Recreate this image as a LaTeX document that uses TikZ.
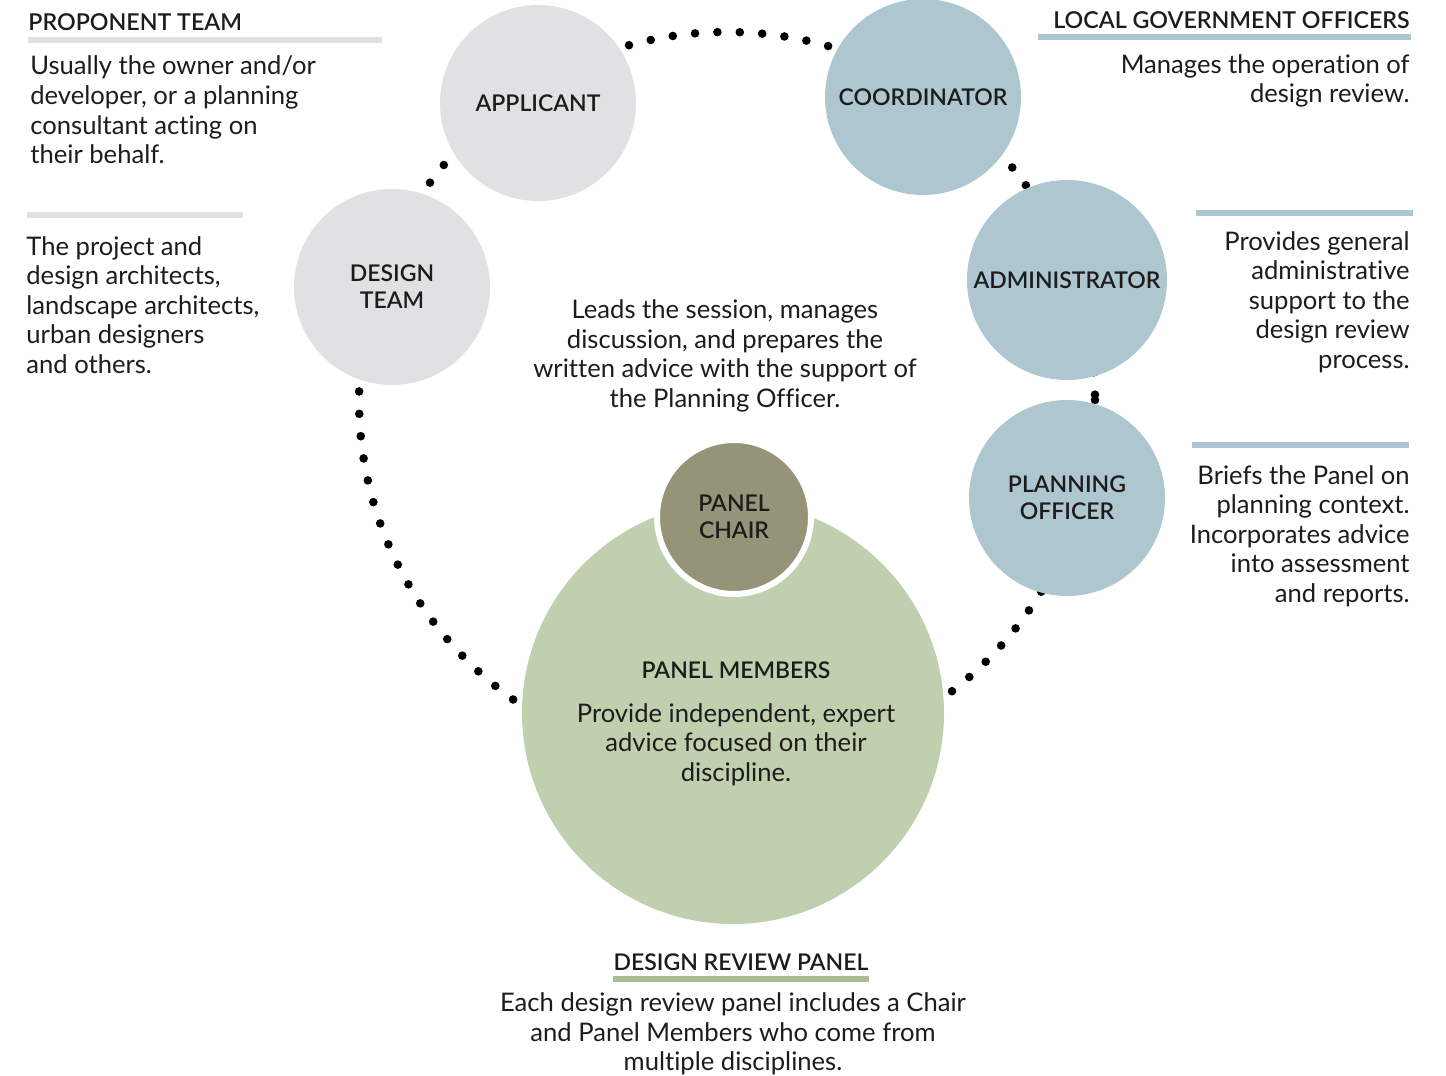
\documentclass[tikz,border=0pt]{standalone}
\usepackage{fontspec}
\setmainfont{Lato}[BoldFont={Lato Semibold},Ligatures=NoCommon]
\usetikzlibrary{positioning}
\definecolor{ink}{HTML}{1C1C1C}
\definecolor{mist}{HTML}{E0E1E3}
\definecolor{steel}{HTML}{AEC6D0}
\definecolor{sage}{HTML}{C0CFAD}
\definecolor{moss}{HTML}{A9BE8E}
\definecolor{olive}{HTML}{959479}

\tikzset{
  role/.style={circle,inner sep=0pt,align=center,text=ink,
    font=\fontsize{11.5}{13.5}\selectfont\bfseries},
  head/.style={inner sep=0pt,text=ink,font=\fontsize{11.6}{13}\selectfont\bfseries},
  blurb/.style={inner sep=0pt,text=ink,font=\fontsize{12.8}{14.8}\selectfont},
  bar/.style={line width=2.6pt,draw=#1},
  dotring/.style={line width=4.3pt,line cap=round,dash pattern=on 0pt off 11.2pt},
}

\begin{document}
\begin{tikzpicture}[x=0.5pt,y=-0.5pt]
\useasboundingbox (0,0) rectangle (1446,1076);

% dotted ring behind the roles
\coordinate (ring) at (727,400);
\draw[dotring] (ring) circle (368);

% proponent side
\node[role,fill=mist,minimum size=98pt] (applicant) at (538,103) {APPLICANT};
\node[role,fill=mist,minimum size=98pt] (designteam) at (392,287) {DESIGN\\TEAM};

% council officers
\node[role,fill=steel,minimum size=98pt] (coordinator) at (923,97) {COORDINATOR};
\node[role,fill=steel,minimum size=100pt] (admin) at (1067,280) {ADMINISTRATOR};
\node[role,fill=steel,minimum size=98pt] (planner) at (1067,498) {PLANNING\\OFFICER};

% the panel
\node[circle,fill=sage,minimum size=211pt] (members) at (733,713) {};
\node[role,fill=olive,draw=white,line width=3pt,minimum size=77pt] (chair) at (734,517) {PANEL\\CHAIR};
\node[head,font=\fontsize{11.5}{13}\selectfont\bfseries] (memberhead) at (736,670) {PANEL MEMBERS};
\node[blurb,align=center,below=12pt of memberhead] (membertext)
  {Provide independent, expert\\advice focused on their\\discipline.};
\node[blurb,align=center] (chairtext) at (725,356)
  {Leads the session, manages\\discussion, and prepares the\\written advice with the support of\\the Planning Officer.};

% side notes, left
\node[head,anchor=west] (proponent) at (28,22) {PROPONENT TEAM};
\draw[bar=mist] (28,40) -- (382,40);
\node[blurb,align=left,anchor=west] (proponenttext) at (30,110)
  {Usually the owner and/or\\developer, or a planning\\consultant acting on\\their behalf.};
\draw[bar=mist] (27,215) -- (243,215);
\node[blurb,align=left,anchor=west] (designtext) at (26,305)
  {The project and\\design architects,\\landscape architects,\\urban designers\\and others.};

% side notes, right
\node[head,anchor=east] (officers) at (1410,20) {LOCAL GOVERNMENT OFFICERS};
\draw[bar=steel] (1038,37) -- (1411,37);
\node[blurb,align=right,anchor=east] (coordtext) at (1410,81)
  {Manages the operation of\\design review.};
\draw[bar=steel] (1196,213) -- (1413,213);
\node[blurb,align=right,anchor=east] (admintext) at (1410,302)
  {Provides general\\administrative\\support to the\\design review\\process.};
\draw[bar=steel] (1192,445) -- (1409,445);
\node[blurb,align=right,anchor=east] (plantext) at (1410,536)
  {Briefs the Panel on\\planning context.\\Incorporates advice\\into assessment\\and reports.};

% panel note at the foot
\node[head,font=\fontsize{11.5}{13}\selectfont\bfseries] (panelhead) at (741,962) {DESIGN REVIEW PANEL};
\draw[bar=moss] (613,979) -- (869,979);
\node[blurb,align=center] (paneltext) at (733,1034)
  {Each design review panel includes a Chair\\and Panel Members who come from\\multiple disciplines.};
\end{tikzpicture}
\end{document}
